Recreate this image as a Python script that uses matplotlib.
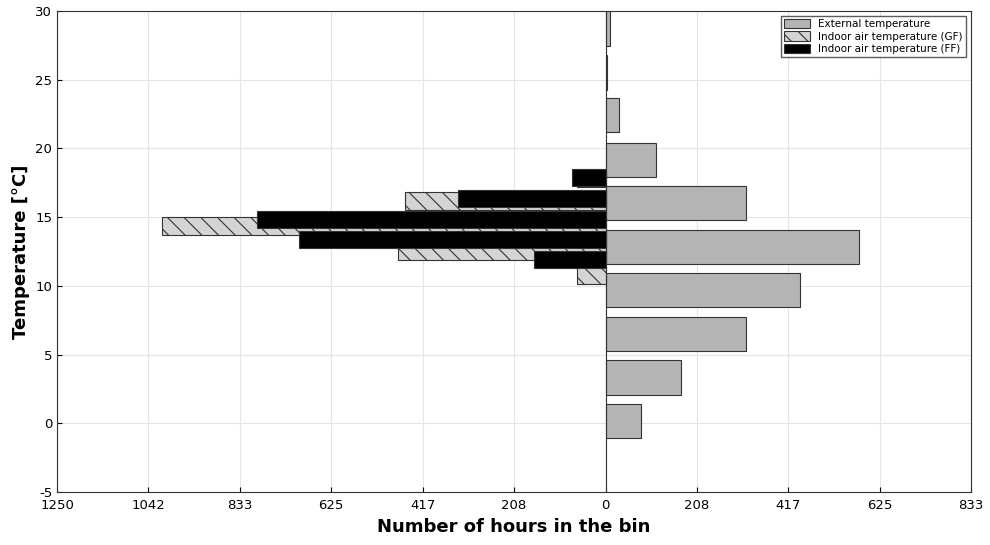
import matplotlib
matplotlib.use("Agg")
import matplotlib.pyplot as plt
import numpy as np

plt.rcParams["hatch.linewidth"] = 0.8
plt.rcParams["axes.unicode_minus"] = False

# External temperature (right side)
ext_t = [0.17, 3.33, 6.5, 9.7, 12.83, 16.0, 19.16, 22.4, 25.5, 28.7]
ext_h = [80, 171, 319, 444, 578, 319, 116, 30, 4, 11]

# Indoor GF (hatched, left side)
gf_t = [17.8, 16.15, 14.35, 12.55, 10.75]
gf_h = [66, 458, 1011, 474, 66]

# Indoor FF (black, left side)
ff_t = [17.89, 16.36, 14.83, 13.38, 11.88]
ff_h = [77, 337, 795, 699, 164]

tick_vals = np.arange(-6, 5) * 1250 / 6
tick_labels = ["1250", "1042", "833", "625", "417", "208", "0", "208", "417", "625", "833"]

fig = plt.figure(figsize=(9.9, 5.45), dpi=100)
ax = fig.add_axes([0.0576, 0.0972, 0.9234, 0.883])

ax.barh(ext_t, ext_h, height=2.5, color="#b4b4b4", edgecolor="#333333",
        linewidth=0.8, label="External temperature", zorder=3)
ax.barh(gf_t, -np.array(gf_h), height=1.3, color="#d4d4d4", edgecolor="#333333",
        hatch="\\\\", linewidth=0.8, label="Indoor air temperature (GF)", zorder=3)
ax.barh(ff_t, -np.array(ff_h), height=1.24, color="black", edgecolor="#333333",
        linewidth=0.8, label="Indoor air temperature (FF)", zorder=4)
ax.axvline(0, color="#333333", linewidth=0.8, zorder=5)

ax.set_xlim(-1250, 833.3)
ax.set_ylim(-5, 30)
ax.set_xticks(tick_vals)
ax.set_xticklabels(tick_labels)
ax.set_yticks(np.arange(-5, 31, 5))
ax.tick_params(labelsize=9.5, direction="in")
ax.tick_params(axis="x", pad=5)
ax.grid(True, color="#e4e4e4", linewidth=0.8, zorder=0)
ax.set_axisbelow(True)
for s in ax.spines.values():
    s.set_color("#333333")

ax.set_xlabel("Number of hours in the bin", fontsize=13, fontweight="bold")
ax.set_ylabel("Temperature [°C]", fontsize=13, fontweight="bold")
ax.legend(loc="upper right", fontsize=7.5, frameon=True, fancybox=False,
          edgecolor="#333333", borderpad=0.3, labelspacing=0.2,
          handlelength=2.5, handleheight=1.0)

fig.savefig("out.png", dpi=100)
